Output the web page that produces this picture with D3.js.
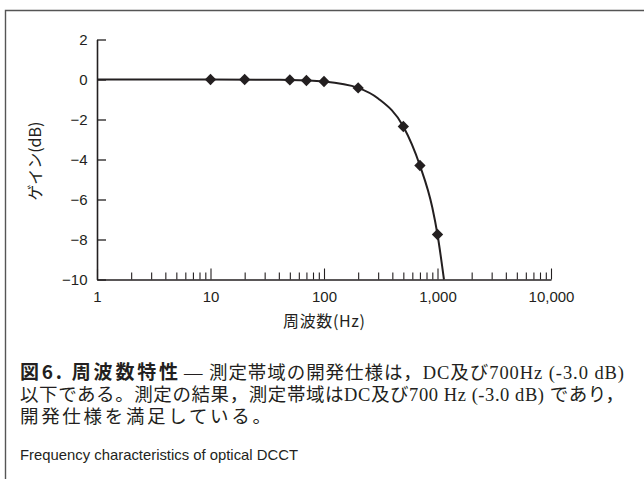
<!DOCTYPE html>
<html><head><meta charset="utf-8">
<script src="https://cdn.jsdelivr.net/npm/d3@7"></script>
<style>
html,body{margin:0;padding:0;background:#fff;}
svg{display:block;}
</style></head>
<body>
<svg id="chart" width="644" height="479"></svg>
<script>
// ---- data ----
const pointFreq = [10, 20, 50, 70, 100, 200, 500, 700, 1000];
const pointGain = [0, 0, -0.02, -0.05, -0.1, -0.42, -2.35, -4.3, -7.75];
const curveFreq = [1, 10, 30, 50, 100, 200, 300, 500, 700, 900, 1000, 1140];
const curveGain = [0, 0, -0.01, -0.02, -0.1, -0.42, -0.95, -2.35, -4.3, -6.4, -7.75, -10];
const xMajorTicks = [1, 10, 100, 1000, 10000];
const xTickLabels = ["1", "10", "100", "1,000", "10,000"];
const yTicks = [-10, -8, -6, -4, -2, 0, 2];
const xTitle = "周波数(Hz)";
const yTitle = "ゲイン(dB)";
const captionBold = "図6.  周波数特性";
const captionLine1 = "— 測定帯域の開発仕様は，DC及び700Hz (-3.0 dB)";
const captionLine2 = "以下である。測定の結果，測定帯域はDC及び700 Hz (-3.0 dB) であり，";
const captionLine3 = "開発仕様を満足している。";
const captionEn = "Frequency characteristics of optical DCCT";

const ink = "#231f20";
const svg = d3.select("#chart");

// frame
svg.append("path").attr("d", "M5.5,479 V10.5 H644").attr("fill", "none")
  .attr("stroke", "#555").attr("stroke-width", 1.4);

const x = d3.scaleLog().domain([1, 10000]).range([97, 551]);
const y = d3.scaleLinear().domain([-10, 2]).range([279.5, 39.5]);

const sans = "'Liberation Sans', Arial, Helvetica, sans-serif";
const cjkSans = "'Noto Sans CJK JP', sans-serif";

// minor ticks
const minor = [];
for (let k = 0; k < 4; k++) for (let m = 2; m <= 9; m++) minor.push(m * Math.pow(10, k));
const gMinor = svg.append("g").attr("transform", `translate(0,${y(-10)})`)
  .call(d3.axisBottom(x).tickValues(minor).tickSize(-7).tickSizeOuter(0).tickFormat(""));
gMinor.select(".domain").remove();
gMinor.selectAll("line").attr("stroke", ink).attr("stroke-width", 1.1);

// x axis
const gx = svg.append("g").attr("transform", `translate(0,${y(-10)})`)
  .call(d3.axisBottom(x).tickValues(xMajorTicks).tickSize(-11).tickSizeOuter(0)
    .tickPadding(12).tickFormat((d, i) => xTickLabels[i]));
gx.select(".domain").attr("stroke", ink).attr("stroke-width", 1.6);
gx.selectAll("line").attr("stroke", ink).attr("stroke-width", 1.1);
gx.selectAll("text").attr("font-family", sans).attr("font-size", 15).attr("fill", ink);

// y axis
const gy = svg.append("g").attr("transform", `translate(${x(1)},0)`)
  .call(d3.axisLeft(y).tickValues(yTicks).tickSize(-9).tickSizeOuter(0).tickPadding(9.5));
gy.select(".domain").attr("stroke", ink).attr("stroke-width", 1.6);
gy.selectAll("line").attr("stroke", ink).attr("stroke-width", 1.3);
gy.selectAll("text").attr("font-family", sans).attr("font-size", 15).attr("fill", ink);

// titles
svg.append("text").attr("x", x(100)).attr("y", 327).attr("text-anchor", "middle")
  .attr("font-family", cjkSans).attr("font-size", 16)
  .attr("textLength", 82).attr("lengthAdjust", "spacing")
  .attr("fill", ink).text(xTitle);
svg.append("text").attr("transform", "translate(41,161) rotate(-90)")
  .attr("text-anchor", "middle")
  .attr("font-family", cjkSans).attr("font-size", 16)
  .attr("fill", ink).text(yTitle);

// curve
const curveData = curveFreq.map((f, i) => [f, curveGain[i]]);
svg.append("path").datum(curveData)
  .attr("d", d3.line().x(d => x(d[0])).y(d => y(d[1])).curve(d3.curveMonotoneX))
  .attr("fill", "none").attr("stroke", ink).attr("stroke-width", 2);

// markers
const pts = pointFreq.map((f, i) => [f, pointGain[i]]);
svg.append("g").selectAll("path").data(pts).join("path")
  .attr("d", d3.symbol(d3.symbolSquare, 64))
  .attr("transform", d => `translate(${x(d[0])},${y(d[1])}) rotate(45)`)
  .attr("fill", ink);

// caption
const serif = "'Liberation Serif', 'Noto Sans CJK JP', serif";
svg.append("text").attr("x", 20).attr("y", 379)
  .attr("font-family", cjkSans).attr("font-weight", 700)
  .attr("font-size", 19).attr("fill", ink)
  .attr("textLength", 158).attr("lengthAdjust", "spacing").text(captionBold);
svg.append("text").attr("x", 184).attr("y", 379)
  .attr("font-family", serif).attr("font-size", 18.5).attr("fill", ink)
  .attr("textLength", 440).attr("lengthAdjust", "spacing").text(captionLine1);
svg.append("text").attr("x", 20).attr("y", 401)
  .attr("font-family", serif).attr("font-size", 18.5).attr("fill", ink)
  .attr("textLength", 604).attr("lengthAdjust", "spacing").text(captionLine2);
svg.append("text").attr("x", 20).attr("y", 423)
  .attr("font-family", serif).attr("font-size", 18.5).attr("fill", ink)
  .attr("textLength", 251).attr("lengthAdjust", "spacing").text(captionLine3);
svg.append("text").attr("x", 20).attr("y", 460)
  .attr("font-family", sans).attr("font-size", 15).attr("fill", ink)
  .attr("textLength", 278).attr("lengthAdjust", "spacingAndGlyphs")
  .text(captionEn);
</script>
</body></html>
